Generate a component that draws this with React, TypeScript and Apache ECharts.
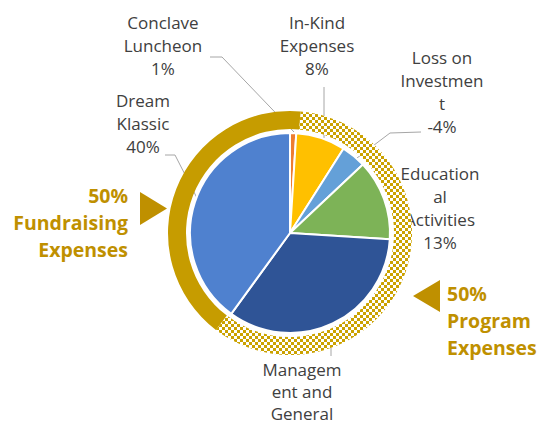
import React, { useEffect, useRef } from "react";
import * as echarts from "echarts";

// ---- data ----
const categories = [
  "Conclave Luncheon",
  "In-Kind Expenses",
  "Loss on Investment",
  "Educational Activities",
  "Management and General",
  "Dream Klassic",
];
const shares = [1, 8, 4, 13, 34, 40];
const shareSigns = [1, 1, -1, 1, 1, 1];
const wrappedNames = [
  "Conclave\nLuncheon",
  "In-Kind\nExpenses",
  "Loss on\nInvestmen\nt",
  "Education\nal\nActivities",
  "Managem\nent and\nGeneral",
  "Dream\nKlassic",
];
const showPercent = [true, true, true, true, false, true];
const groupNames = ["Program Expenses", "Fundraising Expenses"];
const groupShares = [59, 41]; // visual arc of the outer ring
const groupLabels = ["50%", "50%"];

// ---- layout / style (not data) ----
const sliceColors = ["#ED7D31", "#FFC000", "#64A0D8", "#7DB357", "#2F5496", "#4F81CF"];
const labelAnchors: [number, number][] = [
  [163, 45],
  [317, 45],
  [442, 92],
  [440, 208],
  [302, 391],
  [143, 123],
];
const labelLineHeights = [23, 23, 23, 23, 22, 23];
const leaderPoints: ([number, number][] | null)[] = [
  [[294, 132], [222, 57], [210, 57]],
  [[324, 138], [324, 110], [324, 87]],
  [[357, 158], [390, 133], [421, 132]],
  null,
  [[331, 333], [331, 345], [331, 356]],
  [[197, 198], [175, 155], [165, 155]],
];
const GOLD = "#C69C00";
const GOLD_TEXT = "#BF9000";
const FONT = "'Open Sans', 'Noto Sans', sans-serif";

export default function App() {
  const ref = useRef<HTMLDivElement>(null);
  useEffect(() => {
    if (!ref.current) return;
    document.body.style.margin = "0";
    const chart = echarts.init(ref.current, undefined, { renderer: "svg" });
    const pieData = categories.map((c, i) => ({
      name: c,
      value: shares[i],
      itemStyle: { color: sliceColors[i] },
      label: { lineHeight: labelLineHeights[i] },
      labelLine: { show: leaderPoints[i] !== null },
    }));
    const ringData = groupNames.map((g, i) => ({
      name: g,
      value: groupShares[i],
      itemStyle:
        i === 0
          ? {
              color: "#ffffff",
              decal: {
                symbol: "rect",
                symbolSize: 1,
                color: "#CBA200",
                backgroundColor: "#ffffff",
                dashArrayX: [
                  [3, 3],
                  [0, 3, 3, 0],
                ],
                dashArrayY: [3, 0],
                rotation: 0,
              },
            }
          : { color: GOLD },
    }));
    chart.setOption({
      animation: false,
      backgroundColor: "#ffffff",
      series: [
        {
          type: "pie",
          z: 2,
          center: [290, 233],
          radius: [0, 100],
          startAngle: 90,
          clockwise: true,
          silent: true,
          itemStyle: { borderColor: "#ffffff", borderWidth: 2 },
          data: pieData,
          label: {
            show: true,
            position: "outside",
            color: "#404040",
            fontFamily: FONT,
            fontSize: 17,
            lineHeight: 23,
            align: "center",
            formatter: (p: any) => {
              const i = p.dataIndex;
              const name = wrappedNames[i];
              if (!showPercent[i]) return name;
              return name + "\n" + shareSigns[i] * shares[i] + "%";
            },
          },
          labelLine: {
            show: true,
            lineStyle: { color: "#A6A6A6", width: 1 },
          },
          labelLayout: (params: any) => {
            const i = params.dataIndex;
            const out: any = {
              x: labelAnchors[i][0],
              y: labelAnchors[i][1],
              align: "center",
              verticalAlign: "middle",
            };
            if (leaderPoints[i]) out.labelLinePoints = leaderPoints[i];
            return out;
          },
        },
        {
          type: "pie",
          zlevel: 1,
          z: 5,
          center: [290, 233],
          radius: [104, 122],
          startAngle: 85,
          clockwise: true,
          silent: true,
          label: { show: false },
          labelLine: { show: false },
          itemStyle: { borderWidth: 0 },
          data: ringData,
        },
      ],
      graphic: [
        {
          type: "text",
          x: 128,
          y: 222,
          style: {
            text: groupLabels[1] + "\n" + groupNames[1].replace(" ", "\n"),
            fill: GOLD_TEXT,
            font: `bold 19.5px ${FONT}`,
            lineHeight: 27,
            align: "right",
            verticalAlign: "middle",
          },
        },
        {
          type: "polygon",
          shape: { points: [[140, 192], [140, 225], [167, 208.5]] },
          style: { fill: GOLD_TEXT },
        },
        {
          type: "text",
          x: 447,
          y: 320,
          style: {
            text: groupLabels[0] + "\n" + groupNames[0].replace(" ", "\n"),
            fill: GOLD_TEXT,
            font: `bold 19.5px ${FONT}`,
            lineHeight: 27,
            align: "left",
            verticalAlign: "middle",
          },
        },
        {
          type: "polygon",
          shape: { points: [[413, 296], [440, 280], [440, 312]] },
          style: { fill: GOLD_TEXT },
        },
      ],
    });
    return () => chart.dispose();
  }, []);
  return (
    <div
      ref={ref}
      style={{ position: "fixed", left: 0, top: 0, width: 540, height: 425 }}
    />
  );
}
